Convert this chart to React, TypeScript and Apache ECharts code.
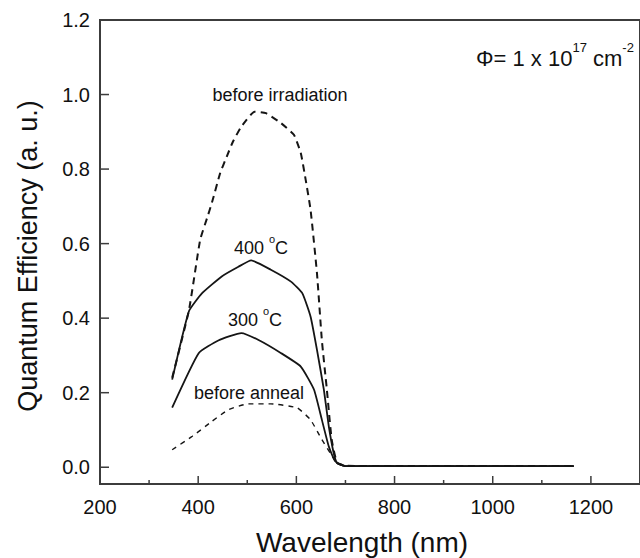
import React, { useEffect, useRef } from "react";
import * as echarts from "echarts";

const xTickValues = [200, 400, 600, 800, 1000, 1200];
const xMinorTickValues = [300, 500, 700, 900, 1100];
const yTickValues = [0, 0.2, 0.4, 0.6, 0.8, 1.0, 1.2];

const irrWl = [347, 381, 404, 418, 428, 445, 458, 471, 488, 515, 538, 569, 595, 609, 619, 629, 642, 652, 662, 672, 683, 700, 800, 900, 1000, 1100, 1165];
const irrQE = [0.24, 0.42, 0.61, 0.668, 0.71, 0.79, 0.833, 0.874, 0.914, 0.954, 0.95, 0.923, 0.892, 0.843, 0.771, 0.69, 0.52, 0.34, 0.21, 0.074, 0.012, 0.004, 0.003, 0.003, 0.003, 0.003, 0.003];

const a400Wl = [347, 381, 408, 448, 482, 508, 548, 589, 612, 629, 642, 656, 666, 676, 683, 700, 800, 900, 1000, 1100, 1165];
const a400QE = [0.235, 0.418, 0.467, 0.512, 0.538, 0.555, 0.53, 0.498, 0.467, 0.404, 0.315, 0.208, 0.11, 0.038, 0.011, 0.003, 0.003, 0.003, 0.003, 0.003, 0.003];

const a300Wl = [347, 401, 441, 488, 522, 569, 609, 636, 652, 666, 679, 700, 800, 900, 1000, 1100, 1165];
const a300QE = [0.16, 0.306, 0.34, 0.36, 0.342, 0.306, 0.27, 0.208, 0.127, 0.056, 0.016, 0.003, 0.003, 0.003, 0.003, 0.003, 0.003];

const annealWl = [347, 388, 428, 461, 502, 548, 602, 629, 652, 669, 683, 700, 800, 900, 1000, 1100, 1165];
const annealQE = [0.047, 0.083, 0.123, 0.154, 0.17, 0.17, 0.159, 0.127, 0.074, 0.038, 0.011, 0.003, 0.003, 0.003, 0.003, 0.003, 0.003];

const FONT = "'Liberation Sans', Arial, Helvetica, sans-serif";
const INK = "#151515";
const AXIS = "#3c3c3c";
const X_MIN = 200;
const X_MAX = 1300;
const Y_MIN = -0.045;
const Y_MAX = 1.2;

function pairs(xs: number[], ys: number[]) {
  return xs.map((x, i) => [x, ys[i]]);
}

export default function App() {
  const ref = useRef<HTMLDivElement>(null);

  useEffect(() => {
    if (!ref.current) return;
    const chart = echarts.init(ref.current, undefined, { renderer: "svg" });
    const lineSeries = (name: string, data: number[][], type: string, width: number, dash?: number[]) => ({
      name,
      type: "line",
      data,
      showSymbol: false,
      smooth: 0.15,
      lineStyle: { color: INK, width, type: type === "dashed" ? dash : "solid" },
      z: 3,
    });
    chart.setOption({
      animation: false,
      backgroundColor: "#ffffff",
      grid: {
        left: 100,
        top: 20,
        right: -7,
        bottom: 74,
        show: true,
        borderColor: AXIS,
        borderWidth: 2,
        backgroundColor: "transparent",
      },
      xAxis: {
        type: "value",
        min: X_MIN,
        max: X_MAX,
        position: "bottom",
        axisLine: { show: true, onZero: false, lineStyle: { color: AXIS, width: 2 } },
        axisTick: { show: false },
        axisLabel: {
          customValues: xTickValues,
          margin: 13,
          fontSize: 20,
          fontFamily: FONT,
          color: "#111",
          formatter: (v: number) => String(v),
        },
        splitLine: { show: false },
      },
      yAxis: {
        type: "value",
        min: Y_MIN,
        max: Y_MAX,
        axisLine: { show: true, onZero: false, lineStyle: { color: AXIS, width: 2 } },
        axisTick: { show: false },
        axisLabel: {
          customValues: yTickValues,
          margin: 10,
          fontSize: 20,
          fontFamily: FONT,
          color: "#111",
          formatter: (v: number) => v.toFixed(1),
        },
        splitLine: { show: false },
      },
      series: [
        lineSeries("before irradiation", pairs(irrWl, irrQE), "dashed", 2, [7, 5]),
        lineSeries("400 °C", pairs(a400Wl, a400QE), "solid", 1.8),
        lineSeries("300 °C", pairs(a300Wl, a300QE), "solid", 1.8),
        lineSeries("before anneal", pairs(annealWl, annealQE), "dashed", 1.4, [5, 5]),
      ],
    });

    // tick marks drawn inside the frame, positioned through the axes' own scales
    const bottomY = chart.convertToPixel({ yAxisIndex: 0 }, Y_MIN) as number;
    const leftX = chart.convertToPixel({ xAxisIndex: 0 }, X_MIN) as number;
    const tickStyle = { stroke: AXIS, lineWidth: 1.5 };
    const ticks: any[] = [];
    xTickValues.forEach((v) => {
      const px = chart.convertToPixel({ xAxisIndex: 0 }, v) as number;
      ticks.push({ type: "line", silent: true, shape: { x1: px, y1: bottomY, x2: px, y2: bottomY - 8 }, style: tickStyle });
    });
    xMinorTickValues.forEach((v) => {
      const px = chart.convertToPixel({ xAxisIndex: 0 }, v) as number;
      ticks.push({ type: "line", silent: true, shape: { x1: px, y1: bottomY, x2: px, y2: bottomY - 4 }, style: tickStyle });
    });
    yTickValues.slice(0, 6).forEach((v) => {
      const py = chart.convertToPixel({ yAxisIndex: 0 }, v) as number;
      ticks.push({ type: "line", silent: true, shape: { x1: leftX, y1: py, x2: leftX + 9, y2: py }, style: tickStyle });
    });

    const richDeg = {
      a: { fontSize: 18, fontFamily: FONT, fill: "#111", lineHeight: 24, verticalAlign: "bottom" },
      s: { fontSize: 11, fontFamily: FONT, fill: "#111", lineHeight: 24, verticalAlign: "top" },
    };

    chart.setOption({
      graphic: [
        ...ticks,
        {
          type: "text",
          x: 362,
          y: 542,
          style: { text: "Wavelength (nm)", font: `28px ${FONT}`, fill: "#111", align: "center", verticalAlign: "middle" },
        },
        {
          type: "text",
          x: 28,
          y: 256,
          rotation: Math.PI / 2,
          style: { text: "Quantum Efficiency (a. u.)", font: `27px ${FONT}`, fill: "#111", align: "center", verticalAlign: "middle" },
        },
        {
          type: "text",
          x: 280,
          y: 95,
          style: { text: "before irradiation", font: `18px ${FONT}`, fill: "#111", align: "center", verticalAlign: "middle" },
        },
        {
          type: "text",
          x: 261,
          y: 245,
          style: { text: "{a|400 }{s|o}{a|C}", align: "center", verticalAlign: "middle", rich: richDeg },
        },
        {
          type: "text",
          x: 255,
          y: 317,
          style: { text: "{a|300 }{s|o}{a|C}", align: "center", verticalAlign: "middle", rich: richDeg },
        },
        {
          type: "text",
          x: 249,
          y: 393,
          style: { text: "before anneal", font: `18px ${FONT}`, fill: "#111", align: "center", verticalAlign: "middle" },
        },
        {
          type: "text",
          x: 476,
          y: 55,
          style: {
            text: "{a|Φ= 1 x 10}{s|17}{a| cm}{s|-2}",
            align: "left",
            verticalAlign: "middle",
            rich: {
              a: { fontSize: 22, fontFamily: FONT, fill: "#111", lineHeight: 28, verticalAlign: "bottom" },
              s: { fontSize: 13, fontFamily: FONT, fill: "#111", lineHeight: 28, verticalAlign: "top" },
            },
          },
        },
      ],
    });
    return () => chart.dispose();
  }, []);

  return (
    <div
      ref={ref}
      style={{ position: "fixed", left: 0, top: 0, width: 640, height: 558, background: "#fff" }}
    />
  );
}
